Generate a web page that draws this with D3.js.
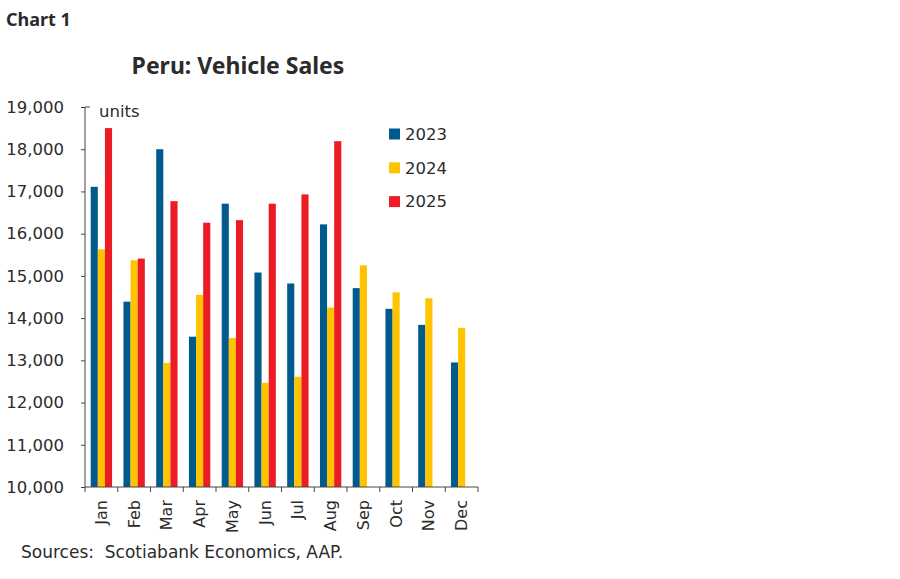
<!DOCTYPE html>
<html>
<head>
<meta charset="utf-8">
<script src="https://cdn.jsdelivr.net/npm/d3@7"></script>
<style>
  body { margin: 0; background: #fff; }
  text { fill: #2b2b2b; }
</style>
</head>
<body>
<div id="chart"></div>
<script>
// data (units)
const months = ["Jan","Feb","Mar","Apr","May","Jun","Jul","Aug","Sep","Oct","Nov","Dec"];
const seriesNames = ["2023","2024","2025"];
const sales2023 = [17110,14390,18000,13560,16710,15080,14820,16220,14710,14220,13840,12950];
const sales2024 = [15630,15370,12940,14550,13530,12470,12610,14250,15250,14610,14470,13770];
const sales2025 = [18500,15410,16770,16260,16320,16710,16930,18190,null,null,null,null];
const yTicks = [10000,11000,12000,13000,14000,15000,16000,17000,18000,19000];
const colors = ["#005b8c","#ffc300","#ec1c24"];

const ctx = { width: 900, height: 579, left: 85, right: 478, top: 107, bottom: 487 };
const font = "DejaVu Sans";

function createChart() {
    const svg = d3.select("#chart").append("svg")
        .attr("width", ctx.width)
        .attr("height", ctx.height);

    svg.append("text")
        .attr("x", 6).attr("y", 26)
        .text("Chart 1")
        .style("font-family", "Noto Sans")
        .style("font-size", "18px")
        .style("font-weight", "bold");

    svg.append("text")
        .attr("x", 238).attr("y", 74)
        .attr("text-anchor", "middle")
        .text("Peru: Vehicle Sales")
        .style("font-family", "Noto Sans")
        .style("font-size", "23px")
        .style("font-weight", "bold");

    let x = d3.scaleBand().domain(months).range([ctx.left, ctx.right]).padding(0);
    let x1 = d3.scaleBand().domain(seriesNames).range([0, x.bandwidth()]).paddingOuter(0.8);
    let y = d3.scaleLinear().domain([10000, 19000]).range([ctx.bottom, ctx.top]);

    const allSeries = [sales2023, sales2024, sales2025];

    // bars
    allSeries.forEach((values, i) => {
        svg.append("g").selectAll("rect")
            .data(months.map((m, j) => ({ m: m, v: values[j] })).filter(d => d.v != null))
            .enter().append("rect")
            .attr("x", d => x(d.m) + x1(seriesNames[i]))
            .attr("width", x1.bandwidth())
            .attr("y", d => y(d.v))
            .attr("height", d => y(10000) - y(d.v))
            .attr("fill", colors[i]);
    });

    // y axis
    let yAxis = svg.append("g")
        .attr("transform", `translate(${ctx.left},0)`)
        .call(d3.axisLeft(y).tickValues(yTicks).tickSize(4).tickPadding(17)
            .tickFormat(d3.format(",")));
    yAxis.select(".domain").attr("stroke", "#444").attr("d", `M5,${ctx.top}H0V${ctx.bottom}`);
    yAxis.selectAll(".tick line").attr("stroke", "#444");
    yAxis.selectAll("text")
        .style("font-family", font)
        .style("font-size", "16.5px")
        .style("fill", "#2b2b2b");

    // x axis with ticks at band edges
    let xAxis = svg.append("g")
        .attr("transform", `translate(0,${ctx.bottom})`);
    xAxis.append("line")
        .attr("x1", ctx.left).attr("x2", ctx.right)
        .attr("stroke", "#444");
    xAxis.selectAll(".edge")
        .data(months.map(m => x(m)).concat([ctx.right]))
        .enter().append("line")
        .attr("x1", d => d).attr("x2", d => d)
        .attr("y1", 0).attr("y2", 5)
        .attr("stroke", "#444");
    xAxis.selectAll(".lbl")
        .data(months)
        .enter().append("text")
        .attr("transform", d => `translate(${x(d) + x.bandwidth() / 2},13) rotate(-90)`)
        .attr("text-anchor", "end")
        .attr("dy", "0.35em")
        .text(d => d)
        .style("font-family", font)
        .style("font-size", "16px");

    svg.append("text")
        .attr("x", 99).attr("y", 117)
        .text("units")
        .style("font-family", font)
        .style("font-size", "16.5px");

    // legend
    let legend = svg.append("g");
    seriesNames.forEach((s, i) => {
        let cy = 134 + i * 33.8;
        legend.append("rect")
            .attr("x", 389).attr("y", cy - 5.5)
            .attr("width", 11).attr("height", 11)
            .attr("fill", colors[i]);
        legend.append("text")
            .attr("x", 405).attr("y", cy)
            .attr("dy", "0.35em")
            .text(s)
            .style("font-family", font)
            .style("font-size", "16.5px");
    });

    svg.append("text")
        .attr("x", 21).attr("y", 558)
        .text("Sources:  Scotiabank Economics, AAP.")
        .style("white-space", "pre")
        .style("font-family", font)
        .style("font-size", "17px");
}

createChart();
</script>
</body>
</html>
